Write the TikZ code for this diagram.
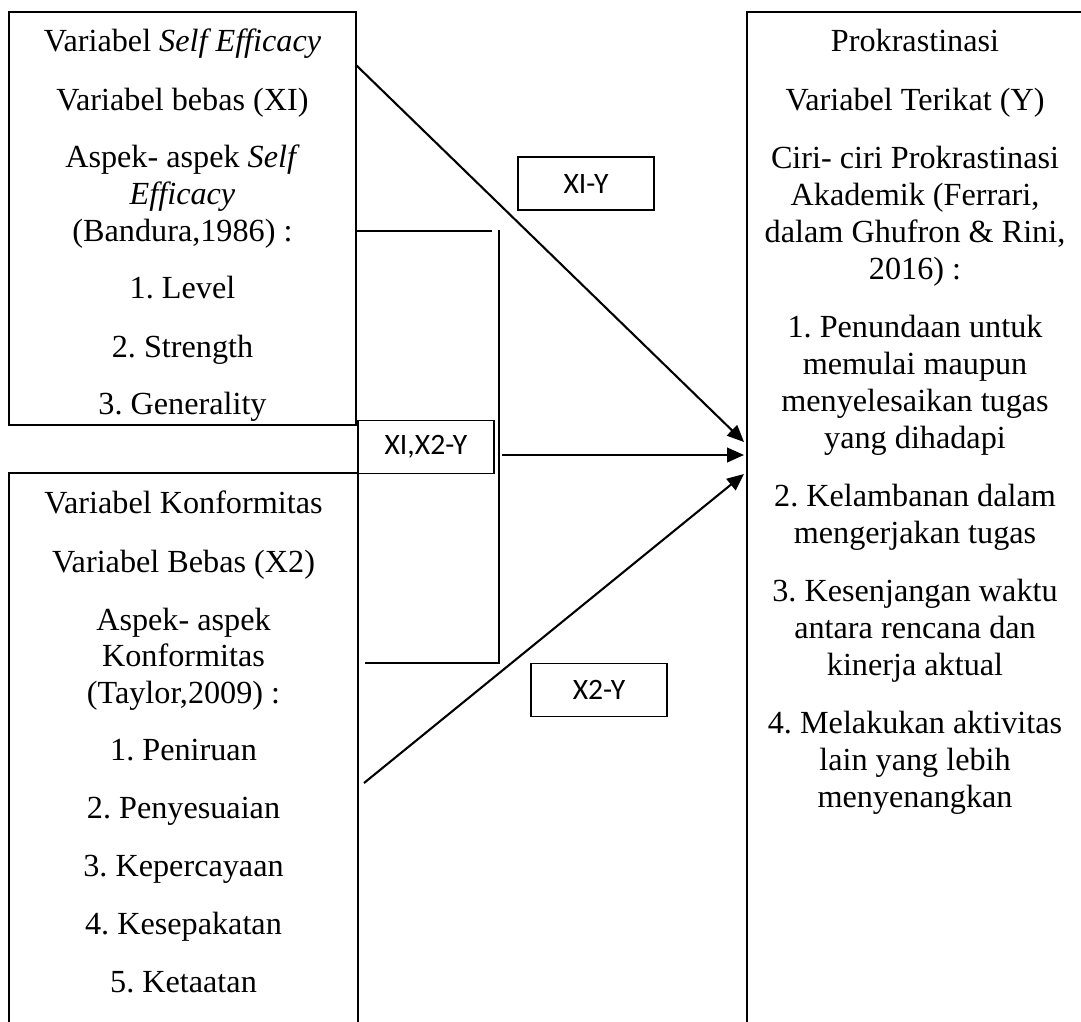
\documentclass[tikz,border=0pt]{standalone}
\usepackage{fontspec}
\setmainfont{Liberation Serif}
\newfontfamily\labelfont{Carlito}
\usetikzlibrary{arrows.meta}
\frenchspacing
\tikzset{%
    varbox/.style={draw,line width=0.8pt},
    vtext/.style={anchor=base,inner sep=0pt,font=\fontsize{12.4}{14}\selectfont},
    pathlabel/.style={draw,line width=0.6pt,inner sep=0pt,minimum width=52.4pt,minimum height=20.4pt,font=\labelfont\fontsize{11.4}{13}\selectfont},
    conn/.style={->,line width=0.8pt},
    bracket/.style={line width=0.7pt},
}
\begin{document}
\begin{tikzpicture}[x=0.385pt,y=-0.385pt,>={Triangle[length=6.5pt,width=5.6pt]}]
        \useasboundingbox (0,0) rectangle (1081,1021);

        % the three variable boxes, cut by the page edge
        \draw[varbox] (9,12) rectangle (356,425);
        \draw[varbox] (9,473) rectangle (358,1045);
        \draw[varbox] (747,12) rectangle (1086,1045);

        \node[vtext] (x1a) at (182.5,52) {Variabel \textit{Self Efficacy}};
        \node[vtext] (x1b) at (182.5,110) {Variabel bebas (XI)};
        \node[vtext] (x1c) at (182.5,167) {Aspek- aspek \textit{Self}};
        \node[vtext] (x1d) at (182.5,204) {\textit{Efficacy}};
        \node[vtext] (x1e) at (182.5,241) {(Bandura,1986) :};
        \node[vtext] (x1f) at (182.5,298) {1. Level};
        \node[vtext] (x1g) at (182.5,357) {2. Strength};
        \node[vtext] (x1h) at (182.5,414) {3. Generality};

        \node[vtext] (x2a) at (183.5,513) {Variabel Konformitas};
        \node[vtext] (x2b) at (183.5,572) {Variabel Bebas (X2)};
        \node[vtext] (x2c) at (183.5,630) {Aspek- aspek};
        \node[vtext] (x2d) at (183.5,666) {Konformitas};
        \node[vtext] (x2e) at (183.5,703) {(Taylor,2009) :};
        \node[vtext] (x2f) at (183.5,760) {1. Peniruan};
        \node[vtext] (x2g) at (183.5,818) {2. Penyesuaian};
        \node[vtext] (x2h) at (183.5,876) {3. Kepercayaan};
        \node[vtext] (x2i) at (183.5,934) {4. Kesepakatan};
        \node[vtext] (x2j) at (183.5,992) {5. Ketaatan};

        \node[vtext] (ya) at (915,52) {Prokrastinasi};
        \node[vtext] (yb) at (915,110) {Variabel Terikat (Y)};
        \node[vtext] (yc) at (915,168) {Ciri- ciri Prokrastinasi};
        \node[vtext] (yd) at (915,205) {Akademik (Ferrari,};
        \node[vtext] (ye) at (915,242) {dalam Ghufron \& Rini,};
        \node[vtext] (yf) at (915,279) {2016) :};
        \node[vtext] (yg) at (915,337) {1. Penundaan untuk};
        \node[vtext] (yh) at (915,374) {memulai maupun};
        \node[vtext] (yi) at (915,411) {menyelesaikan tugas};
        \node[vtext] (yj) at (915,448) {yang dihadapi};
        \node[vtext] (yk) at (915,506) {2. Kelambanan dalam};
        \node[vtext] (yl) at (915,543) {mengerjakan tugas};
        \node[vtext] (ym) at (915,601) {3. Kesenjangan waktu};
        \node[vtext] (yn) at (915,638) {antara rencana dan};
        \node[vtext] (yo) at (915,675) {kinerja aktual};
        \node[vtext] (yp) at (915,733) {4. Melakukan aktivitas};
        \node[vtext] (yq) at (915,770) {lain yang lebih};
        \node[vtext] (yr) at (915,807) {menyenangkan};

        % path labels
        \node[pathlabel] (lxy) at (586,183.5) {XI-Y};
        \node[pathlabel] (lxxy) at (426,447) {XI,X2-Y};
        \node[pathlabel] (lx2y) at (599,690) {X2-Y};

        % bracket joining both predictors
        \coordinate (b1) at (357,231);
        \coordinate (b2) at (492,231);
        \coordinate (b3) at (499,230);
        \coordinate (b4) at (499,663);
        \coordinate (b5) at (365,663);
        \draw[bracket] (b1) -- (b2);
        \draw[bracket] (b3) -- (b4) -- (b5);

        \coordinate (s1) at (356,65);
        \coordinate (t1) at (744,442);
        \coordinate (s12) at (502,455);
        \coordinate (t12) at (744,455);
        \coordinate (s2) at (364,783);
        \coordinate (t2) at (744,474);
        \draw[conn] (s1) -- (t1);
        \draw[conn] (s12) -- (t12);
        \draw[conn] (s2) -- (t2);
    \end{tikzpicture}
\end{document}
